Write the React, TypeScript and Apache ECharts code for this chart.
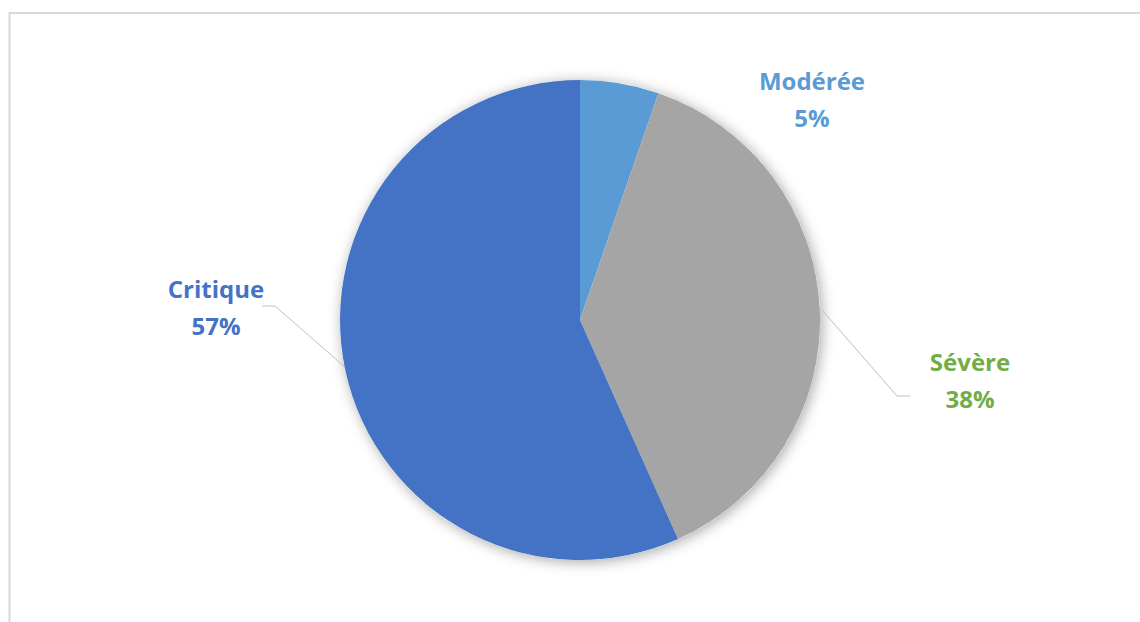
import React, { useEffect, useRef } from "react";
import * as echarts from "echarts";

const categories = ["Modérée", "Sévère", "Critique"];
const values = [5.3, 38, 56.7];
const sliceColors = ["#5B9BD5", "#A5A5A5", "#4472C4"];
const labelColors = ["#5B9BD5", "#70AD47", "#4472C4"];

export default function App() {
  const ref = useRef<HTMLDivElement>(null);
  useEffect(() => {
    if (!ref.current) return;
    const chart = echarts.init(ref.current, undefined, { renderer: "svg" });
    const labelPos = [
      { x: 812, y: 99, line: null as number[][] | null },
      { x: 970, y: 380, line: [[822, 310], [897, 396], [910, 396]] },
      { x: 216, y: 307, line: [[345, 367], [275, 306], [262, 306]] },
    ];
    chart.setOption({
      animation: false,
      backgroundColor: "#ffffff",
      graphic: [
        {
          type: "rect",
          z: -10,
          shape: { x: 9.5, y: 13, width: 1300, height: 800 },
          style: { fill: "none", stroke: "#d9d9d9", lineWidth: 2 },
        },
        {
          type: "circle",
          z: -5,
          shape: { cx: 580, cy: 320, r: 240 },
          style: {
            fill: "#ffffff",
            shadowBlur: 14,
            shadowColor: "rgba(0,0,0,0.35)",
            shadowOffsetX: 2,
            shadowOffsetY: 2,
          },
        },
      ],
      series: [
        {
          type: "pie",
          center: [580, 320],
          radius: 240,
          startAngle: 90,
          clockwise: true,
          avoidLabelOverlap: false,
          data: categories.map((name, i) => ({
            name,
            value: values[i],
            itemStyle: { color: sliceColors[i] },
            label: { color: labelColors[i] },
            labelLine: { show: i !== 0 },
          })),
          itemStyle: { borderWidth: 0 },
          label: {
            show: true,
            position: "outside",
            formatter: (p: any) => `${p.name}\n${Math.round(p.percent)}%`,
            fontFamily: "Open Sans",
            fontWeight: "bold",
            fontSize: 24,
            lineHeight: 37,
            align: "center",
          },
          labelLine: {
            show: true,
            lineStyle: { color: "#bfbfbf", width: 1 },
          },
          labelLayout: (params: any) => {
            const p = labelPos[params.dataIndex];
            const r: any = {
              x: p.x,
              y: p.y,
              align: "center",
              verticalAlign: "middle",
            };
            if (p.line) r.labelLinePoints = p.line;
            return r;
          },
        },
      ],
    });
    return () => chart.dispose();
  }, []);
  return (
    <div
      ref={ref}
      style={{ position: "fixed", left: 0, top: 0, width: 1140, height: 622 }}
    />
  );
}
